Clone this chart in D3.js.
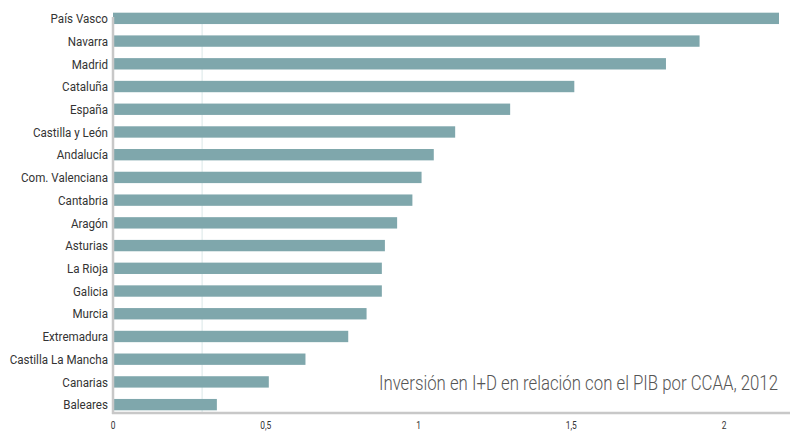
<!DOCTYPE html>
<html>
<head>
<meta charset="utf-8">
<script src="https://cdn.jsdelivr.net/npm/d3@7"></script>
<style>
  body { margin: 0; background: #fff; }
  svg text { font-family: 'Roboto', 'Noto Sans', sans-serif; }
</style>
</head>
<body>
<div id="chart"></div>
<script>
// Data
const regions = [
  'País Vasco', 'Navarra', 'Madrid', 'Cataluña', 'España', 'Castilla y León',
  'Andalucía', 'Com. Valenciana', 'Cantabria', 'Aragón', 'Asturias', 'La Rioja',
  'Galicia', 'Murcia', 'Extremadura', 'Castilla La Mancha', 'Canarias', 'Baleares'
]
const values = [
  2.18, 1.92, 1.81, 1.51, 1.30, 1.12,
  1.05, 1.01, 0.98, 0.93, 0.89, 0.88,
  0.88, 0.83, 0.77, 0.63, 0.51, 0.34
]
const tickValues = [0, 0.5, 1, 1.5, 2]
const tickLabels = ['0', '0,5', '1', '1,5', '2']
const gridValues = [0.29]
const title = 'Inversión en I+D en relación con el PIB por CCAA, 2012'

const width = 809
const height = 433
const marginLeft = 113
const plotRight = 790
const plotTop = 7
const plotBottom = 413

// Narrow font look: squeeze text horizontally
const squeeze = 0.84

const svg = d3.select('#chart')
  .append('svg')
  .attr('width', width)
  .attr('height', height)

const x = d3.scaleLinear()
  .domain([0, 2.216])
  .range([marginLeft, plotRight])

const y = d3.scaleBand()
  .domain(regions)
  .range([plotTop, plotBottom + 3])
  .paddingInner(0.5)
  .paddingOuter(0.25)

// Grid line
svg.append('g')
  .selectAll('line')
  .data(gridValues)
  .enter()
  .append('line')
  .attr('x1', d => x(d) + 0.5)
  .attr('x2', d => x(d) + 0.5)
  .attr('y1', plotTop + 10)
  .attr('y2', plotBottom)
  .attr('stroke', '#dbe7e8')
  .attr('stroke-width', 1)

// Bars
svg.append('g')
  .selectAll('rect')
  .data(values)
  .enter()
  .append('rect')
  .attr('x', x(0))
  .attr('y', (d, i) => y(regions[i]))
  .attr('width', d => x(d) - x(0))
  .attr('height', y.bandwidth())
  .attr('fill', '#7fa7ac')

// Axes lines
svg.append('line')
  .attr('x1', marginLeft)
  .attr('x2', marginLeft)
  .attr('y1', plotTop + 10)
  .attr('y2', plotBottom + 1)
  .attr('stroke', '#c8c8c8')
  .attr('stroke-width', 2.5)

svg.append('line')
  .attr('x1', marginLeft - 1)
  .attr('x2', plotRight)
  .attr('y1', plotBottom)
  .attr('y2', plotBottom)
  .attr('stroke', '#c8c8c8')
  .attr('stroke-width', 2.5)

// Category labels
svg.append('g')
  .selectAll('text')
  .data(regions)
  .enter()
  .append('text')
  .attr('transform', d =>
    `translate(${marginLeft - 5}, ${y(d) + y.bandwidth() / 2}) scale(0.86, 1)`
  )
  .attr('dy', '.35em')
  .attr('text-anchor', 'end')
  .attr('font-size', 13.5)
  .attr('fill', '#333')
  .text(d => d)

// Tick labels
svg.append('g')
  .selectAll('text')
  .data(tickValues)
  .enter()
  .append('text')
  .attr('transform', d => `translate(${x(d)}, 429) scale(${squeeze}, 1)`)
  .attr('text-anchor', 'middle')
  .attr('font-size', 10)
  .attr('fill', '#333')
  .text((d, i) => tickLabels[i])

// Title
svg.append('text')
  .attr('transform', `translate(778, 390) scale(${squeeze}, 1)`)
  .attr('text-anchor', 'end')
  .attr('font-size', 20)
  .attr('font-weight', 300)
  .attr('fill', '#555')
  .text(title)
</script>
</body>
</html>
